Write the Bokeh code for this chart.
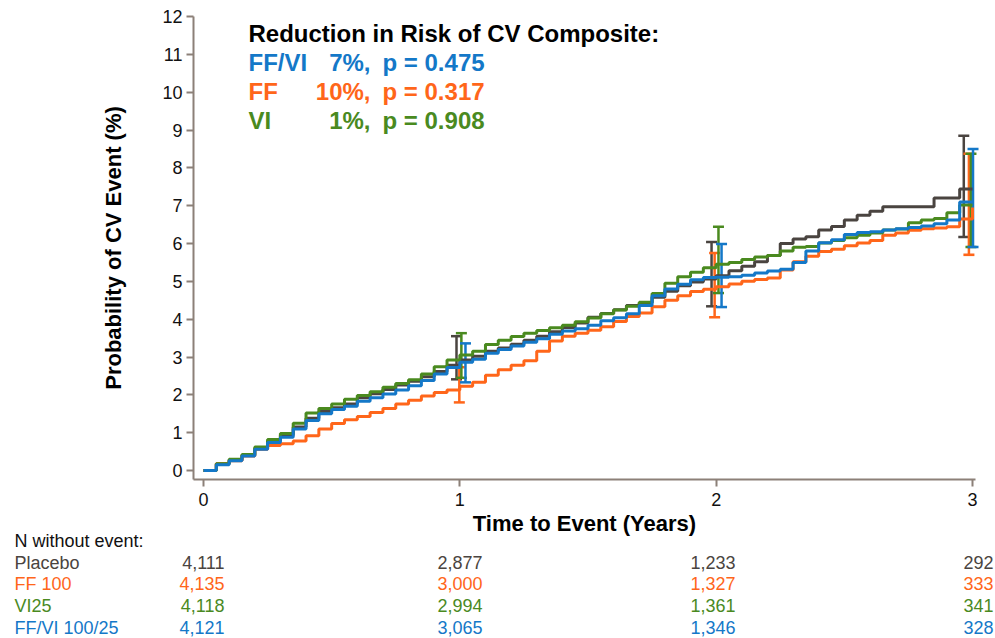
from bokeh.plotting import figure
from bokeh.models import Range1d, FixedTicker, Label, Whisker, TeeHead, ColumnDataSource
from bokeh.embed import file_html
from bokeh.resources import INLINE

# ---------------- data ----------------
times = [0.00, 0.05, 0.10, 0.15, 0.20, 0.25, 0.30, 0.35, 0.40, 0.45, 0.50,
         0.55, 0.60, 0.65, 0.70, 0.75, 0.80, 0.85, 0.90, 0.95, 1.00,
         1.05, 1.10, 1.15, 1.20, 1.25, 1.30, 1.35, 1.40, 1.45, 1.50,
         1.55, 1.60, 1.65, 1.70, 1.75, 1.80, 1.85, 1.90, 1.95, 2.00,
         2.05, 2.10, 2.15, 2.20, 2.25, 2.30, 2.35, 2.40, 2.45, 2.50,
         2.55, 2.60, 2.65, 2.70, 2.75, 2.80, 2.85, 2.90, 2.95, 3.00]

placebo = [0.00, 0.18, 0.27, 0.40, 0.58, 0.78, 0.93, 1.15, 1.38, 1.56, 1.66,
           1.76, 1.92, 2.03, 2.14, 2.26, 2.36, 2.48, 2.62, 2.78, 2.92,
           3.02, 3.15, 3.24, 3.34, 3.44, 3.55, 3.67, 3.78, 3.90, 4.05,
           4.15, 4.25, 4.36, 4.43, 4.58, 4.74, 4.88, 4.98, 5.06, 5.15,
           5.28, 5.40, 5.52, 5.68, 6.00, 6.12, 6.18, 6.36, 6.45, 6.62,
           6.75, 6.85, 6.97, 6.97, 6.97, 6.97, 7.20, 7.20, 7.44, 7.44]

ff100 = [0.00, 0.18, 0.26, 0.38, 0.56, 0.66, 0.71, 0.78, 0.92, 1.10, 1.24,
         1.34, 1.43, 1.53, 1.64, 1.76, 1.86, 1.97, 2.06, 2.13, 2.23,
         2.33, 2.52, 2.66, 2.78, 2.90, 3.15, 3.42, 3.55, 3.63, 3.71,
         3.80, 3.94, 4.07, 4.16, 4.33, 4.50, 4.62, 4.73, 4.79, 4.86,
         4.93, 5.00, 5.05, 5.09, 5.30, 5.52, 5.66, 5.79, 5.85, 5.94,
         6.01, 6.08, 6.22, 6.28, 6.35, 6.39, 6.41, 6.44, 6.65, 6.95]

vi25 = [0.00, 0.18, 0.30, 0.42, 0.62, 0.82, 0.98, 1.25, 1.52, 1.64, 1.76,
        1.88, 1.98, 2.08, 2.20, 2.30, 2.40, 2.55, 2.74, 2.92, 3.05,
        3.15, 3.33, 3.44, 3.54, 3.63, 3.70, 3.77, 3.84, 3.93, 4.03,
        4.14, 4.24, 4.34, 4.45, 4.68, 4.95, 5.12, 5.24, 5.36, 5.45,
        5.50, 5.58, 5.64, 5.68, 5.80, 5.90, 5.92, 6.01, 6.08, 6.15,
        6.22, 6.28, 6.36, 6.38, 6.55, 6.62, 6.66, 6.81, 7.02, 7.02]

ffvi = [0.00, 0.15, 0.26, 0.38, 0.56, 0.74, 0.88, 1.10, 1.32, 1.50, 1.61,
        1.70, 1.83, 1.92, 2.02, 2.13, 2.24, 2.38, 2.55, 2.72, 2.86,
        2.94, 3.10, 3.20, 3.29, 3.39, 3.48, 3.60, 3.69, 3.75, 3.84,
        3.96, 4.04, 4.14, 4.36, 4.62, 4.80, 4.92, 5.04, 5.10, 5.11,
        5.12, 5.16, 5.22, 5.27, 5.32, 5.50, 5.80, 6.02, 6.10, 6.24,
        6.29, 6.31, 6.36, 6.39, 6.42, 6.46, 6.52, 6.62, 7.10, 7.10]

# confidence interval bars at years 1, 2, 3
ci_x_placebo = [0.987, 1.982, 2.966]
ci_lo_placebo = [2.41, 4.34, 6.17]
ci_hi_placebo = [3.55, 6.04, 8.85]

ci_x_ff = [0.998, 1.994, 2.986]
ci_lo_ff = [1.80, 4.05, 5.70]
ci_hi_ff = [2.73, 5.75, 8.37]

ci_x_vi = [1.006, 2.009, 2.994]
ci_lo_vi = [2.45, 4.69, 5.91]
ci_hi_vi = [3.63, 6.44, 8.37]

ci_x_ffvi = [1.022, 2.021, 3.002]
ci_lo_ffvi = [2.33, 4.32, 5.91]
ci_hi_ffvi = [3.36, 5.99, 8.50]

x_ticks = [0, 1, 2, 3]
y_ticks = list(range(0, 13))

group_names = ["Placebo", "FF 100", "VI25", "FF/VI 100/25"]
n_at_risk = [
    ["4,111", "2,877", "1,233", "292"],
    ["4,135", "3,000", "1,327", "333"],
    ["4,118", "2,994", "1,361", "341"],
    ["4,121", "3,065", "1,346", "328"],
]

title_text = "Reduction in Risk of CV Composite:"
legend_names = ["FF/VI", "FF", "VI"]
legend_pct = ["7%,", "10%,", "1%,"]
legend_p = ["p = 0.475", "p = 0.317", "p = 0.908"]

# ---------------- styling ----------------
C_PLA = "#4a4440"
C_FF = "#ff661a"
C_VI = "#4a8a1f"
C_FFVI = "#1478c8"
AXIS_C = "#8c8078"
FONT = "Liberation Sans"

W, H = 995, 638
# pixel geometry of the reference: x=0 at 203px, x=3 at 972px; y=0 at 470px, 12 at 16px
PX_X0, PX_PER_X = 203.0, 769.0 / 3.0
PX_Y0, PX_PER_Y = 470.0, 454.0 / 12.0

X0 = (0 - PX_X0) / PX_PER_X
X1 = (W - PX_X0) / PX_PER_X
Y1 = PX_Y0 / PX_PER_Y
Y0 = (PX_Y0 - H) / PX_PER_Y


def dx(px):
    return (px - PX_X0) / PX_PER_X


def dy(py):
    return (PX_Y0 - py) / PX_PER_Y


p = figure(width=W, height=H, output_backend="svg", toolbar_location=None,
           x_range=Range1d(X0, X1), y_range=Range1d(Y0, Y1),
           min_border=0)
p.outline_line_color = None
p.grid.grid_line_color = None
p.background_fill_color = "white"
p.border_fill_color = "white"

for ax in (p.xaxis[0], p.yaxis[0]):
    ax.axis_line_color = AXIS_C
    ax.axis_line_width = 2
    ax.major_tick_line_color = AXIS_C
    ax.major_tick_line_width = 2
    ax.major_tick_out = 7
    ax.major_tick_in = 0
    ax.minor_tick_line_color = None
    ax.major_label_text_font = FONT
    ax.major_label_text_font_size = "18px"
    ax.major_label_text_color = "#111111"
    ax.axis_label_text_font = FONT
    ax.axis_label_text_font_size = "22px"
    ax.axis_label_text_font_style = "bold"
    ax.axis_label_text_color = "#000000"

p.xaxis[0].ticker = FixedTicker(ticks=x_ticks)
p.yaxis[0].ticker = FixedTicker(ticks=y_ticks)
p.xaxis[0].axis_label = "Time to Event (Years)"
p.yaxis[0].axis_label = "Probability of CV Event (%)"
p.xaxis[0].fixed_location = dy(479)
p.yaxis[0].fixed_location = dx(193)
p.xaxis[0].bounds = (dx(193), dx(975))
p.yaxis[0].bounds = (dy(479), 12)
p.xaxis[0].major_label_standoff = 6
p.yaxis[0].major_label_standoff = 4
p.xaxis[0].axis_label_standoff = 2
p.yaxis[0].axis_label_standoff = 33

series = [(placebo, C_PLA), (ff100, C_FF), (vi25, C_VI), (ffvi, C_FFVI)]
for ys, c in series:
    p.step(times, ys, mode="after", line_color=c, line_width=3)

cis = [(ci_x_placebo, ci_lo_placebo, ci_hi_placebo, C_PLA),
       (ci_x_ff, ci_lo_ff, ci_hi_ff, C_FF),
       (ci_x_vi, ci_lo_vi, ci_hi_vi, C_VI),
       (ci_x_ffvi, ci_lo_ffvi, ci_hi_ffvi, C_FFVI)]
for bx, lo, hi, c in cis:
    src = ColumnDataSource(dict(base=bx, lower=lo, upper=hi))
    w = Whisker(base="base", lower="lower", upper="upper", source=src,
                dimension="height", line_color=c, line_width=2.5,
                upper_head=TeeHead(size=11, line_color=c, line_width=2.5),
                lower_head=TeeHead(size=11, line_color=c, line_width=2.5))
    p.add_layout(w)

# title / legend text block
p.add_layout(Label(x=dx(248), y=dy(33), text=title_text, text_font=FONT,
                   text_font_size="24px", text_font_style="bold",
                   text_color="#000000", text_baseline="middle", text_align="left"))
leg_colors = [C_FFVI, C_FF, C_VI]
leg_y = [62, 91, 120]
for i in range(3):
    c = leg_colors[i]
    yy = dy(leg_y[i])
    p.add_layout(Label(x=dx(248), y=yy, text=legend_names[i], text_font=FONT,
                       text_font_size="24px", text_font_style="bold", text_color=c,
                       text_baseline="middle", text_align="left"))
    p.add_layout(Label(x=dx(370), y=yy, text=legend_pct[i], text_font=FONT,
                       text_font_size="24px", text_font_style="bold", text_color=c,
                       text_baseline="middle", text_align="right"))
    p.add_layout(Label(x=dx(382), y=yy, text=legend_p[i], text_font=FONT,
                       text_font_size="24px", text_font_style="bold", text_color=c,
                       text_baseline="middle", text_align="left"))

# number-at-risk table
row_y = [540, 562, 583, 605, 627]
col_right = [224, 482, 735, 993]
row_colors = [C_PLA, C_FF, C_VI, C_FFVI]
p.add_layout(Label(x=dx(14), y=dy(row_y[0]), text="N without event:", text_font=FONT,
                   text_font_size="18px", text_color="#111111",
                   text_baseline="middle", text_align="left"))
for r in range(4):
    yy = dy(row_y[r + 1])
    c = row_colors[r]
    p.add_layout(Label(x=dx(14), y=yy, text=group_names[r], text_font=FONT,
                       text_font_size="18px", text_color=c,
                       text_baseline="middle", text_align="left"))
    for k in range(4):
        p.add_layout(Label(x=dx(col_right[k]), y=yy, text=n_at_risk[r][k],
                           text_font=FONT, text_font_size="18px", text_color=c,
                           text_baseline="middle", text_align="right"))

open("out.html", "w").write(file_html(p, INLINE))
